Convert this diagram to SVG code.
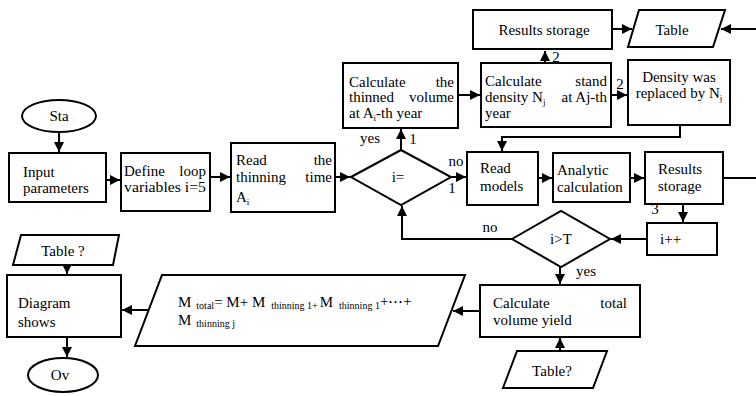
<svg xmlns="http://www.w3.org/2000/svg" width="756" height="396" viewBox="0 0 756 396" font-family="'Liberation Serif', 'Times New Roman', 'DejaVu Serif', serif" font-size="15">
<style>
.s{fill:#fff;stroke:#000;stroke-width:2}
.c{fill:none;stroke:#000;stroke-width:2}
text{font-family:'Liberation Serif','Times New Roman','DejaVu Serif',serif;font-size:15px;fill:#000}
.m{text-anchor:middle}
.e{text-anchor:end}
.sub{font-size:9px}
.fs{font-size:10px}
</style>
<defs>
<marker id="a" markerUnits="userSpaceOnUse" markerWidth="10" markerHeight="10" refX="10" refY="5" orient="auto">
<path d="M0,0 L10,5 L0,10 z" fill="#000"/>
</marker>
</defs>
<rect width="756" height="396" fill="#fff"/>
<g id="connectors">
<path class="c" d="M59,132 V152" marker-end="url(#a)"/>
<path class="c" d="M106,180 H120" marker-end="url(#a)"/>
<path class="c" d="M210,177 H230" marker-end="url(#a)"/>
<path class="c" d="M335,177 H350" marker-end="url(#a)"/>
<path class="c" d="M401,150 V129" marker-end="url(#a)"/>
<path class="c" d="M458,95 H480" marker-end="url(#a)"/>
<path class="c" d="M545,63 V51" marker-end="url(#a)"/>
<path class="c" d="M611,95 H627" marker-end="url(#a)"/>
<path class="c" d="M612,29 H632" marker-end="url(#a)"/>
<path class="c" d="M756,29 H721" marker-end="url(#a)"/>
<path class="c" d="M680,125 V137 H502 V151" marker-end="url(#a)"/>
<path class="c" d="M451,177 H466" marker-end="url(#a)"/>
<path class="c" d="M538,178 H552" marker-end="url(#a)"/>
<path class="c" d="M630,178 H644" marker-end="url(#a)"/>
<path class="c" d="M723,178 H756"/>
<path class="c" d="M683,204 V222" marker-end="url(#a)"/>
<path class="c" d="M647,239 H611" marker-end="url(#a)"/>
<path class="c" d="M512,239 H402 V206" marker-end="url(#a)"/>
<path class="c" d="M560,267 V284" marker-end="url(#a)"/>
<path class="c" d="M560,351 V338" marker-end="url(#a)"/>
<path class="c" d="M480,311 H453" marker-end="url(#a)"/>
<path class="c" d="M148,310 H122" marker-end="url(#a)"/>
<path class="c" d="M67,265 V274" marker-end="url(#a)"/>
<path class="c" d="M67,337 V357" marker-end="url(#a)"/>
<text x="370" y="143" class="m">yes</text>
<text x="413" y="144" class="m">1</text>
<text x="456" y="166" class="m">no</text>
<text x="452" y="193" class="m">1</text>
<text x="556" y="62" class="m">2</text>
<text x="620" y="89" class="m">2</text>
<text x="655" y="214" class="m">3</text>
<text x="490" y="232" class="m">no</text>
<text x="586" y="276" class="m">yes</text>
</g>
<g id="start">
<ellipse class="s" cx="59" cy="116" rx="37" ry="16"/>
<text x="59" y="121" class="m">Sta</text>
</g>
<g id="input">
<rect class="s" x="9" y="153" width="97" height="49"/>
<text x="23" y="177">Input</text>
<text x="23" y="193">parameters</text>
</g>
<g id="define">
<rect class="s" x="121" y="153" width="89" height="58"/>
<text x="124" y="176">Define</text>
<text x="206" y="176" class="e">loop</text>
<text x="124" y="192" textLength="82" lengthAdjust="spacingAndGlyphs">variables i=5</text>
</g>
<g id="readtime">
<rect class="s" x="231" y="143" width="104" height="69"/>
<text x="236" y="165">Read</text>
<text x="332" y="165" class="e">the</text>
<text x="236" y="182">thinning</text>
<text x="332" y="182" class="e">time</text>
<text x="236" y="202">A<tspan class="sub" dy="3">i</tspan></text>
</g>
<g id="ieq">
<polygon class="s" points="351,177 401,150 451,177 401,205"/>
<text x="398" y="182" class="m">i=</text>
</g>
<g id="thinned">
<rect class="s" x="343" y="63" width="115" height="65"/>
<text x="349" y="87">Calculate</text>
<text x="454" y="87" class="e">the</text>
<text x="349" y="102">thinned</text>
<text x="454" y="102" class="e">volume</text>
<text x="349" y="118">at A<tspan class="sub" dy="3">i</tspan><tspan dy="-3">-th year</tspan></text>
</g>
<g id="stand">
<rect class="s" x="481" y="63" width="130" height="64"/>
<text x="485" y="86">Calculate</text>
<text x="607" y="86" class="e">stand</text>
<text x="485" y="102">density N<tspan class="sub" dy="3">j</tspan></text>
<text x="607" y="102" class="e">at Aj-th</text>
<text x="485" y="118">year</text>
</g>
<g id="storage1">
<rect class="s" x="473" y="10" width="139" height="39"/>
<text x="544" y="35" class="m">Results storage</text>
</g>
<g id="table1">
<polygon class="s" points="639,10 725,10 713,47 628,47"/>
<text x="672" y="35" class="m">Table</text>
</g>
<g id="density">
<rect class="s" x="628" y="60" width="102" height="65"/>
<text x="679" y="82" class="m">Density was</text>
<text x="679" y="98" class="m">replaced by N<tspan class="sub" dy="3">j</tspan></text>
</g>
<g id="readmodels">
<rect class="s" x="467" y="152" width="71" height="53"/>
<text x="480" y="173">Read</text>
<text x="480" y="191">models</text>
</g>
<g id="analytic">
<rect class="s" x="553" y="153" width="77" height="49"/>
<text x="557" y="175">Analytic</text>
<text x="557" y="192">calculation</text>
</g>
<g id="storage2">
<rect class="s" x="645" y="152" width="78" height="52"/>
<text x="658" y="174">Results</text>
<text x="658" y="191">storage</text>
</g>
<g id="iplus">
<rect class="s" x="647" y="223" width="70" height="32"/>
<text x="660" y="244">i++</text>
</g>
<g id="igt">
<polygon class="s" points="512,239 561,211 610,239 561,267"/>
<text x="561" y="244" class="m">i&gt;T</text>
</g>
<g id="total">
<rect class="s" x="480" y="285" width="160" height="52"/>
<text x="493" y="308">Calculate</text>
<text x="627" y="308" class="e">total</text>
<text x="493" y="325">volume yield</text>
</g>
<g id="table3">
<polygon class="s" points="517,351 607,351 593,388 503,388"/>
<text x="552" y="376" class="m">Table?</text>
</g>
<g id="formula">
<polygon class="s" points="162,275 465,275 438,346 135,346"/>
<text x="178" y="307">M<tspan class="fs" dx="5" dy="2">total</tspan><tspan dy="-2">= M+ M</tspan><tspan class="fs" dx="6" dy="2">thinning 1+</tspan><tspan dy="-2" dx="2">M</tspan><tspan class="fs" dx="6" dy="2">thinning 1</tspan><tspan dy="-3">+⋯+</tspan></text>
<text x="178" y="325">M<tspan class="fs" dx="5" dy="2">thinning j</tspan></text>
</g>
<g id="diagram">
<rect class="s" x="7" y="275" width="114" height="62"/>
<text x="18" y="308">Diagram</text>
<text x="18" y="327">shows</text>
</g>
<g id="table2">
<polygon class="s" points="21,235 119,235 113,265 13,265"/>
<text x="63" y="256" class="m">Table ?</text>
</g>
<g id="end">
<ellipse class="s" cx="63" cy="375" rx="35" ry="17"/>
<text x="60" y="380" class="m">Ov</text>
</g>
</svg>
